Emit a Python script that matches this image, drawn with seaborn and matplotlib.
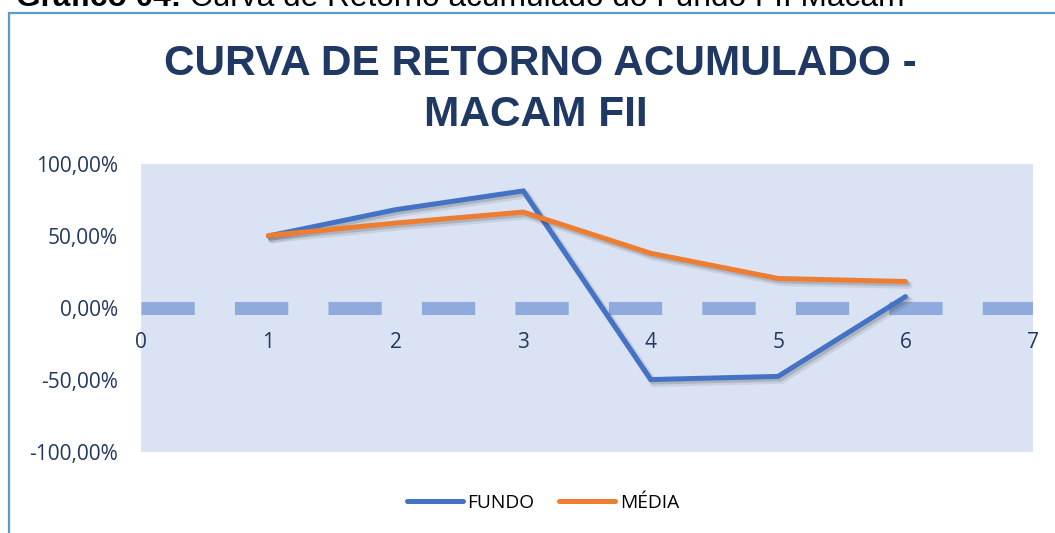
import matplotlib
matplotlib.use("Agg")
import matplotlib.pyplot as plt
import matplotlib.patheffects as pe
from matplotlib.lines import Line2D
from matplotlib.patches import Rectangle
from matplotlib.ticker import FuncFormatter
import seaborn as sns
import pandas as pd

# ---- data ----
periods = [1, 2, 3, 4, 5, 6]
fundo = [0.500, 0.683, 0.813, -0.497, -0.475, 0.079]
media = [0.503, 0.590, 0.666, 0.380, 0.205, 0.184]
series_names = ["FUNDO", "MÉDIA"]
x_ticks = [0, 1, 2, 3, 4, 5, 6, 7]
y_ticks = [-1.0, -0.5, 0.0, 0.5, 1.0]
title_lines = ["CURVA DE RETORNO ACUMULADO -", "MACAM FII"]
caption_bold = "Gráfico 04:"
caption_rest = " Curva de Retorno acumulado do Fundo FII Macam"

df = pd.DataFrame({
    "periodo": periods * 2,
    "retorno": fundo + media,
    "serie": [series_names[0]] * len(periods) + [series_names[1]] * len(periods),
})

BLUE = "#4472c4"
ORANGE = "#ed7d31"
NAVY = "#1f3864"
TICK = "#22385e"

sns.set_theme(style="white")
plt.rcParams["font.family"] = ["Open Sans", "DejaVu Sans"]

W, H = 1055, 533
fig = plt.figure(figsize=(W / 100, H / 100), dpi=100)
fig.patch.set_facecolor("white")

def fx(px):
    return px / W

def fy(py):
    return 1 - py / H

ax = fig.add_axes([fx(141), fy(452), fx(1033) - fx(141), fy(164) - fy(452)])
ax.set_facecolor("#dae3f3")

# dashed zero line
ax.axhline(0, color="#8faadc", lw=9.4, dashes=(4.08, 3.08),
           dash_capstyle="butt", zorder=1.5)

sns.lineplot(data=df, x="periodo", y="retorno", hue="serie",
             palette={series_names[0]: BLUE, series_names[1]: ORANGE},
             lw=3.6, legend=False, ax=ax, zorder=3,
             solid_capstyle="round", solid_joinstyle="miter")
for ln in ax.get_lines()[1:]:
    ln.set_path_effects([
        pe.SimpleLineShadow(offset=(2.4, -2.6), shadow_color="#303030", alpha=0.10, linewidth=5.5),
        pe.SimpleLineShadow(offset=(1.6, -1.8), shadow_color="#303030", alpha=0.18),
        pe.Normal(),
    ])

ax.set_xlim(0, 7)
ax.set_ylim(-1, 1)
ax.set_xticks(x_ticks)
ax.set_yticks(y_ticks)
ax.yaxis.set_major_formatter(FuncFormatter(lambda v, p: f"{v*100:.2f}%".replace(".", ",")))
ax.set_xlabel("")
ax.set_ylabel("")
for s in ax.spines.values():
    s.set_visible(False)
ax.spines["bottom"].set_position(("data", 0))
ax.tick_params(axis="x", length=0, pad=17, labelsize=15, labelcolor=TICK)
ax.tick_params(axis="y", length=0, pad=16.5, labelsize=15, labelcolor=TICK)
ax.grid(False)

# title
fig.text(fx(540), fy(74.6), title_lines[0], ha="center", va="baseline",
         fontsize=30.5, fontweight="bold", color=NAVY, family="Liberation Sans")
fig.text(fx(536), fy(126.4), title_lines[1], ha="center", va="baseline",
         fontsize=30.5, fontweight="bold", color=NAVY, family="Liberation Sans")

# legend
handles = [Line2D([0], [0], color=BLUE, lw=3.6, solid_capstyle="round"),
           Line2D([0], [0], color=ORANGE, lw=3.6, solid_capstyle="round")]
fig.legend(handles, series_names, loc="center", bbox_to_anchor=(fx(543), fy(503)),
           ncol=2, frameon=False, prop={"family": "Open Sans", "size": 13.8},
           handlelength=2.9, handletextpad=0.25, columnspacing=1.3,
           labelcolor="black")

# outer border (only left & top visible)
fig.patches.append(Rectangle((fx(9), -0.2), 1.5, fy(13) + 0.2, transform=fig.transFigure,
                             fill=False, ec="#5b9bd5", lw=1.6, zorder=0))

# caption (clipped at the top, as in the reference)
t1 = fig.text(fx(16), fy(6), caption_bold, ha="left", va="baseline",
              fontsize=22.8, fontweight="bold", color="black", family="Liberation Sans")
fig.canvas.draw()
bb = t1.get_window_extent(renderer=fig.canvas.get_renderer())
fig.text(bb.x1 / W, fy(6), caption_rest, ha="left", va="baseline",
         fontsize=22.8, color="black", family="Liberation Sans")

fig.savefig("out.png", dpi=100, facecolor="white")
